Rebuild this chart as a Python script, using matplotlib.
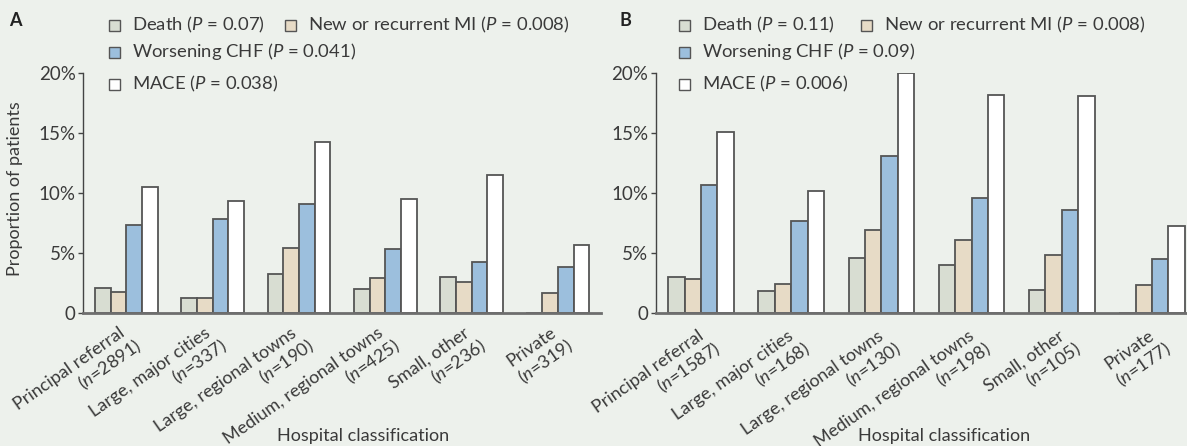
import matplotlib
matplotlib.use("Agg")
import matplotlib.pyplot as plt
import matplotlib.transforms as mtransforms
from matplotlib.patches import Rectangle
import numpy as np

plt.rcParams['font.family'] = ['Lato', 'DejaVu Sans']
plt.rcParams['mathtext.fontset'] = 'custom'
plt.rcParams['mathtext.rm'] = 'Lato'
plt.rcParams['mathtext.it'] = 'Lato:italic'

# data (percent of patients)
categories = ["Principal referral", "Large, major cities", "Large, regional towns",
              "Medium, regional towns", "Small, other", "Private"]
n_a = [2891, 337, 190, 425, 236, 319]
n_b = [1587, 168, 130, 198, 105, 177]

series = ["Death", "New or recurrent MI", "Worsening CHF", "MACE"]
p_a = ["0.07", "0.008", "0.041", "0.038"]
p_b = ["0.11", "0.008", "0.09", "0.006"]

death_a = [2.05, 1.2, 3.25, 1.95, 3.0, 0.0]
mi_a = [1.7, 1.2, 5.4, 2.9, 2.55, 1.65]
chf_a = [7.3, 7.8, 9.1, 5.3, 4.2, 3.85]
mace_a = [10.5, 9.3, 14.3, 9.5, 11.5, 5.65]

death_b = [3.0, 1.8, 4.6, 4.0, 1.9, 0.0]
mi_b = [2.8, 2.4, 6.9, 6.1, 4.8, 2.3]
chf_b = [10.7, 7.7, 13.1, 9.6, 8.6, 4.5]
mace_b = [15.1, 10.2, 20.0, 18.2, 18.1, 7.25]

colors = ["#d8ddd2", "#e7dbc6", "#9cbfdd", "#ffffff"]
bg = "#edf1ec"
txt = "#3a3a3a"
edge = "#555555"
fs = 13

W, H = 1187, 446
fig = plt.figure(figsize=(W / 100, H / 100), dpi=100, facecolor=bg)


def px(x, y):
    # image pixel (from top-left) -> figure fraction
    return x / W, 1 - y / H


def shifted(ax, dx, dy):
    base = mtransforms.blended_transform_factory(ax.transData, ax.transAxes)
    return base + mtransforms.ScaledTranslation(dx / 100, -dy / 100,
                                                fig.dpi_scale_trans)


def panel(left_px, right_px, data, ns, pvals, letter, leg, xlab_x, lab_off):
    x0, _ = px(left_px, 0)
    x1, _ = px(right_px, 0)
    _, yb = px(0, 312.7)
    _, yt = px(0, 73.3)
    ax = fig.add_axes([x0, yb, x1 - x0, yt - yb])
    ax.patch.set_alpha(0)
    x = np.arange(len(categories))
    w = 0.182
    for j, vals in enumerate(data):
        ax.bar(x + (j - 1.5) * w, vals, w, color=colors[j], edgecolor=edge,
               linewidth=1.3, zorder=3)
    ax.set_xlim(-0.5, 5.5)
    ax.set_ylim(0, 20)
    ax.set_yticks([0, 5, 10, 15, 20])
    ax.set_yticklabels(["0", "5%", "10%", "15%", "20%"])
    for s in ["top", "right"]:
        ax.spines[s].set_visible(False)
    ax.spines["left"].set_color("#444444")
    ax.spines["left"].set_linewidth(1.0)
    ax.spines["left"].set_bounds(0, 20)
    ax.spines["bottom"].set_color("#6e6e6e")
    ax.spines["bottom"].set_linewidth(2.0)
    ax.spines["bottom"].set_zorder(4)
    ax.tick_params(axis="y", direction="out", length=3.5, width=1.0,
                   color="#444444", labelcolor=txt, labelsize=13.5, pad=2)
    ax.set_xticks(x)
    ax.set_xticklabels([])
    ax.tick_params(axis="x", length=0)

    # two-line rotated category labels
    ox, oy = lab_off
    for xi, c, n in zip(x, categories, ns):
        ax.text(xi, 0, c, transform=shifted(ax, -1 + ox, 22.5 + oy),
                rotation=35, rotation_mode="anchor", ha="right",
                va="baseline", fontsize=fs, color=txt, clip_on=False)
        ax.text(xi, 0, f"($n$={n})", transform=shifted(ax, 16 + ox, 36 + oy),
                rotation=35, rotation_mode="anchor", ha="right",
                va="baseline", fontsize=fs, color=txt, clip_on=False)

    ax.set_xlabel("Hospital classification", fontsize=fs, color=txt)
    ax.xaxis.label.set_va("center")
    ax.xaxis.set_label_coords(xlab_x, (312.7 - 436) / 239.4)

    fx, fy = px(*letter[1])
    fig.text(fx, fy, letter[0], fontsize=fs, color="#222222",
             fontweight="bold", ha="left", va="center")

    # legend entries
    for k, (mx, my) in enumerate(leg):
        rx, ry = px(mx, my + 5.5)
        fig.add_artist(Rectangle((rx, ry), 11 / W, 11 / H,
                                 transform=fig.transFigure,
                                 facecolor=colors[k], edgecolor="#555555",
                                 linewidth=1.0))
        tx, ty = px(mx + 23, my)
        fig.text(tx, ty, f"{series[k]} ($P$ = {pvals[k]})", fontsize=13.3,
                 color=txt, ha="left", va="center")
    return ax


panel(83.3, 601, [death_a, mi_a, chf_a, mace_a], n_a, p_a,
      ("A", (9, 21)), [(109, 25), (285, 25), (109, 52), (109, 84)], 0.540,
      (0, 0))
panel(656, 1197, [death_b, mi_b, chf_b, mace_b], n_b, p_b,
      ("B", (620, 21)), [(679, 25), (861, 25), (679, 52), (679, 84)], 0.532,
      (4.5, 3))

fig.text(15 / W, 1 - 189 / H, "Proportion of patients", rotation=90,
         fontsize=fs, color=txt, ha="center", va="center")

fig.savefig("out.png", dpi=100, facecolor=bg)
